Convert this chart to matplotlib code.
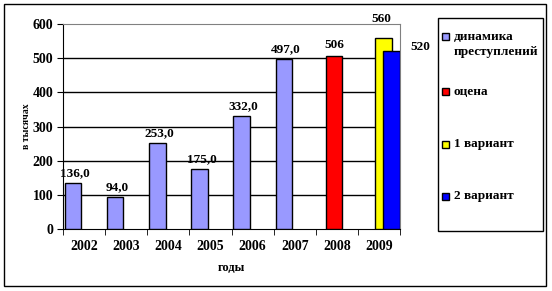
import matplotlib
matplotlib.use("Agg")
from matplotlib import pyplot as plt
from matplotlib.patches import Rectangle

years = ["2002", "2003", "2004", "2005", "2006", "2007", "2008", "2009"]
dynamics = [136.0, 94.0, 253.0, 175.0, 332.0, 497.0, None, None]
estimate = [None, None, None, None, None, None, 506, None]
variant1 = [None, None, None, None, None, None, None, 560]
variant2 = [None, None, None, None, None, None, None, 520]

series_names = ["динамика\nпреступлений", "оцена", "1 вариант", "2 вариант"]
series_colors = ["#9999FF", "#FF0000", "#FFFF00", "#0000FF"]

plt.rcParams["font.family"] = ["Liberation Serif", "DejaVu Serif"]

fig = plt.figure(figsize=(5.52, 2.91), dpi=100)
W, H = 552, 291
ax = fig.add_axes([63 / W, 1 - 229 / H, (400 - 63) / W, (229 - 24) / H])

# outer frame
fig.patches.append(Rectangle((4 / W, 1 - 286 / H), 542 / W, 282 / H, transform=fig.transFigure,
                             fill=False, edgecolor="black", linewidth=1))

width = 0.39
offsets = [-0.26, -0.07, 0.11, 0.30]
all_series = [dynamics, estimate, variant1, variant2]
for k, values in enumerate(all_series):
    xs = [i + offsets[k] for i, v in enumerate(values) if v is not None]
    vs = [v for v in values if v is not None]
    ax.bar(xs, vs, width=width, color=series_colors[k], edgecolor="black", linewidth=1,
           zorder=3)

# data labels
lbl = dict(fontsize=9.5, fontweight="bold", ha="center", va="center", clip_on=False, zorder=4)
for i, v in enumerate(dynamics):
    if v is not None:
        ax.text(i + offsets[0] + 0.05, v + 28, f"{v:.1f}".replace(".", ","), **lbl)
ax.text(6 + offsets[1], estimate[6] + 34, f"{estimate[6]}", **lbl)
ax.text(7 + offsets[2] - 0.05, variant1[7] + 55, f"{variant1[7]}", **lbl)
ax.text(7.975, variant2[7] + 13, f"{variant2[7]}", **lbl)

ax.set_xlim(-0.5, 7.5)
ax.set_ylim(0, 600)
ax.set_yticks(range(0, 601, 100))
ax.set_xticks(range(len(years)))
ax.set_xticklabels(years, fontsize=10, fontweight="bold")
ax.set_xticks([i - 0.5 for i in range(len(years) + 1)], minor=True)
ax.tick_params(axis="x", which="major", length=0, pad=8)
ax.tick_params(axis="x", which="minor", length=4, direction="out", color="black")
ax.tick_params(axis="y", length=4, direction="out", labelsize=10, pad=3)
for lab in ax.get_yticklabels():
    lab.set_fontweight("bold")

for y in range(100, 600, 100):
    ax.axhline(y, color="black", linewidth=1, zorder=1)

ax.spines["left"].set_color("black")
ax.spines["bottom"].set_color("black")
ax.spines["top"].set_color("#808080")
ax.spines["right"].set_color("#808080")

ax.set_ylabel("в тысячах", fontsize=7, fontweight="bold")
ax.yaxis.set_label_coords(-0.095, 0.5)
ax.set_xlabel("годы", fontsize=9, fontweight="bold")
ax.xaxis.set_label_coords(0.5, -0.16)

# legend box drawn by hand
fig.patches.append(Rectangle((438 / W, 1 - 231 / H), 105 / W, 213 / H, transform=fig.transFigure,
                             fill=True, facecolor="white", edgecolor="black", linewidth=1))
legend_rows = [37, 91, 144, 196]
for name, color, row in zip(series_names, series_colors, legend_rows):
    fig.patches.append(Rectangle((442 / W, 1 - (row + 3.5) / H), 7 / W, 7 / H,
                                 transform=fig.transFigure, facecolor=color,
                                 edgecolor="black", linewidth=1))
    fig.text(454 / W, 1 - (row - 5.5) / H, name, ha="left", va="top", fontsize=9.5,
             fontweight="bold", linespacing=1.3)

fig.savefig("out.png", dpi=100)
